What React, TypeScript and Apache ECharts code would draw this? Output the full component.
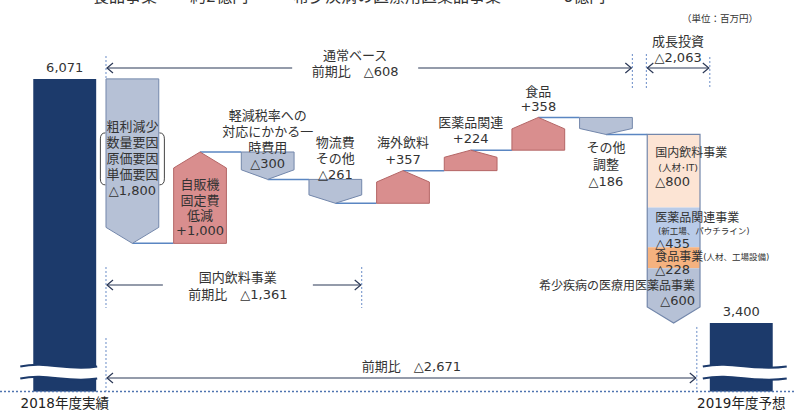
import React, { useEffect, useRef } from "react";
import * as echarts from "echarts";

// ---------- data ----------
const categories = [
  "2018年度実績", "粗利減少", "自販機固定費低減", "軽減税率対応一時費用", "物流費その他",
  "海外飲料", "医薬品関連", "食品", "その他調整", "成長投資", "2019年度予想",
];
const startValue = 6071;
const changes = [-1800, 1000, -300, -261, 357, 224, 358, -186];
const barNames: string[][] = [
  [],
  ["粗利減少", "数量要因", "原価要因", "単価要因"],
  ["自販機", "固定費", "低減"],
  ["軽減税率への", "対応にかかる一", "時費用"],
  ["物流費", "その他"],
  ["海外飲料"],
  ["医薬品関連"],
  ["食品"],
  ["その他", "調整"],
  [],
  [],
];
const growthNames = ["国内飲料事業", "医薬品関連事業", "食品事業", "希少疾病の医療用医薬品事業"];
const growthNotes = ["(人材･IT)", "(新工場、パウチライン)", "(人材、工場設備)", ""];
const growthValues = [800, 435, 228, 600];
const endValue = 3400;
const summaryNormal = ["通常ベース", "前期比　△608"];
const summaryDomestic = ["国内飲料事業", "前期比　△1,361"];
const summaryTotal = "前期比　△2,671";
const growthTitle = ["成長投資", "△2,063"];
const unitText = "（単位：百万円）";
const headerTexts = ["食品事業", "約2億円", "希少疾病の医療用医薬品事業", "6億円"];

const Y_MIN = 2650;
const Y_MAX = 6700;

// ---------- styles ----------
const FONT = "'DejaVu Sans', 'Noto Sans CJK JP', sans-serif";
const NAVY = "#1c3a6b";
const DEC_FILL = "#b6c1d6";
const DEC_STROKE = "#7387ab";
const INC_FILL = "#d98e8e";
const INC_STROKE = "#b46666";
const CONNECT = "#5a86c2";
const TEXT = "#333333";
const ARROW = "#2b3856";
const DASH = "#6a8cc7";
const SEG_FILLS = ["#fce4d4", "#b9cbe8", "#f5b27f", "#b6c1d6"];

const fmtChange = (v: number) => (v < 0 ? "△" : "+") + Math.abs(v).toLocaleString("en-US");
const fmtTotal = (v: number) => v.toLocaleString("en-US");

// build bar items: [index, start, end, kind] kind 0 total, 1 inc, 2 dec, 3 stacked dec
const barData: number[][] = [];
barData.push([0, startValue, Y_MIN, 0]);
let run = startValue;
changes.forEach((c, k) => {
  barData.push([k + 1, run, run + c, c > 0 ? 1 : 2]);
  run += c;
});
const growthTotal = growthValues.reduce((a, b) => a + b, 0);
barData.push([9, run, run - growthTotal, 3]);
barData.push([10, endValue, Y_MIN, 0]);

const txt = (x: number, y: number, text: string, size = 13, align = "center", fill = TEXT) => ({
  type: "text",
  x,
  y,
  style: { text, fill, fontSize: size, fontFamily: FONT, align, verticalAlign: "middle", lineHeight: size + 2 },
});

// multi-line block: first line centred at y, step between lines
const block = (x: number, y: number, lines: string[], step: number, size = 13, align = "center") => ({
  type: "text",
  x,
  y: y - step / 2,
  style: {
    text: lines.join("\n"),
    fill: TEXT,
    fontSize: size,
    fontFamily: FONT,
    align,
    verticalAlign: "top",
    lineHeight: step,
  },
});

const rt = (size: number, lh: number) => ({ fontSize: size, fontFamily: FONT, fill: TEXT, lineHeight: lh });

function renderBar(_params: any, api: any) {
  const i = api.value(0);
  const s = api.value(1);
  const e = api.value(2);
  const kind = api.value(3);
  const band = api.size([1, 0])[0];
  const w = kind === 0 ? band * 0.93 : band * 0.78;
  const [cx, yS] = api.coord([i, s]);
  const yE = api.coord([i, e])[1];
  const l = cx - w / 2;
  const r = cx + w / 2;
  const children: any[] = [];

  if (kind === 0) {
    children.push({ type: "rect", shape: { x: l, y: yS, width: w, height: yE - yS }, style: { fill: NAVY } });
    const yB = yE;
    const xa = i === 0 ? l - 13 : l - 7;
    const xb = i === 0 ? r + 1 : r + 14;
    const dx = xb - xa;
    const y1 = yB - 25;
    const y2 = yB - 13;
    const curve = (y: number) => `M${xa} ${y} C${xa + dx * 0.35} ${y - 6} ${xa + dx * 0.6} ${y + 5} ${xb} ${y}`;
    children.push({
      type: "path",
      shape: {
        pathData: `${curve(y1)} L${xb} ${y2} C${xa + dx * 0.6} ${y2 + 5} ${xa + dx * 0.35} ${y2 - 6} ${xa} ${y2} Z`,
      },
      style: { fill: "#ffffff", stroke: null },
    });
    children.push({ type: "path", shape: { pathData: curve(y1) }, style: { fill: null, stroke: NAVY, lineWidth: 2 } });
    children.push({ type: "path", shape: { pathData: curve(y2) }, style: { fill: null, stroke: NAVY, lineWidth: 2 } });
    children.push(txt(cx, yS - 11, fmtTotal(s), 13));
    return { type: "group", children };
  }

  const h = Math.abs(yE - yS);
  const t = Math.min(16, h * 0.35);

  if (i >= 1 && i <= 8) {
    children.push({
      type: "line",
      shape: { x1: cx, y1: yE, x2: cx + band - w / 2, y2: yE },
      style: { stroke: CONNECT, lineWidth: 1.5 },
    });
  }

  if (kind === 1) {
    children.push({
      type: "polygon",
      shape: { points: [[l, yS], [r, yS], [r, yE + t], [cx, yE], [l, yE + t]] },
      style: { fill: INC_FILL, stroke: INC_STROKE, lineWidth: 1 },
    });
  } else if (kind === 2) {
    children.push({
      type: "polygon",
      shape: { points: [[l, yS], [r, yS], [r, yE - t], [cx, yE], [l, yE - t]] },
      style: { fill: DEC_FILL, stroke: DEC_STROKE, lineWidth: 1 },
    });
  } else if (kind === 3) {
    let v = s;
    const tops: number[] = [];
    growthValues.forEach((gv, k) => {
      const ya = api.coord([i, v])[1];
      const yb = api.coord([i, v - gv])[1];
      tops.push(ya);
      if (k < growthValues.length - 1) {
        children.push({ type: "rect", shape: { x: l, y: ya, width: w, height: yb - ya }, style: { fill: SEG_FILLS[k] } });
      } else {
        children.push({
          type: "polygon",
          shape: { points: [[l, ya], [r, ya], [r, yb - t], [cx, yb], [l, yb - t]] },
          style: { fill: SEG_FILLS[k] },
        });
      }
      v -= gv;
    });
    children.push({
      type: "polygon",
      shape: { points: [[l, yS], [r, yS], [r, yE - t], [cx, yE], [l, yE - t]] },
      style: { fill: null, stroke: DEC_STROKE, lineWidth: 1.2 },
    });
    const xl = l + 8;
    const vals = growthValues.map((g) => fmtChange(-g));
    children.push({
      type: "text", x: xl, y: tops[0] + 12,
      style: {
        text: `{a|${growthNames[0]}}\n{b| ${growthNotes[0]}}\n{c|${vals[0]}}`,
        align: "left", verticalAlign: "top",
        rich: { a: rt(12, 14), b: rt(9.5, 14), c: rt(13, 15) },
      },
    });
    children.push({
      type: "text", x: xl, y: tops[1] + 3,
      style: {
        text: `{a|${growthNames[1]}}\n{b| ${growthNotes[1]}}\n{c|${vals[1]}}`,
        align: "left", verticalAlign: "top",
        rich: { a: rt(12, 14), b: rt(8.5, 12), c: rt(13, 14) },
      },
    });
    children.push({
      type: "text", x: xl, y: tops[2] + 3,
      style: {
        text: `{a|${growthNames[2]}}{b|${growthNotes[2]}}\n{c|${vals[2]}}`,
        align: "left", verticalAlign: "top",
        rich: { a: rt(12, 13), b: rt(8.5, 13), c: rt(13, 12) },
      },
    });
    children.push({
      type: "text", x: r - 5, y: tops[3] + 11,
      style: {
        text: `{a|${growthNames[3]}}\n{c|${vals[3]}}`,
        align: "right", verticalAlign: "top",
        rich: { a: rt(12, 14), c: rt(13, 15) },
      },
    });
    return { type: "group", children };
  }

  // labels
  const lines = [...barNames[i], fmtChange(e - s)];
  let firstY = yS;
  let step = 16;
  switch (i) {
    case 1: firstY = yS + 48; break;
    case 2: firstY = yE + 33; step = 15.3; break;
    case 3: firstY = yS - 36; break;
    case 4: firstY = yS - 37; break;
    case 5: case 6: firstY = yE - 28; step = 16.5; break;
    case 7: firstY = yE - 26; step = 15; break;
    case 8: firstY = yE + 13; step = 17; break;
  }
  children.push(block(cx, firstY, lines, step, 13));
  if (i === 1) {
    const xl = cx - 32;
    const xr = cx + 32;
    const y0 = firstY + step - 10;
    const y1 = firstY + 3 * step + 10;
    children.push({
      type: "path",
      shape: { pathData: `M${xl + 5} ${y0} Q${xl} ${y0} ${xl} ${y0 + 6} L${xl} ${y1 - 6} Q${xl} ${y1} ${xl + 5} ${y1}` },
      style: { fill: null, stroke: "#444", lineWidth: 1 },
    });
    children.push({
      type: "path",
      shape: { pathData: `M${xr - 5} ${y0} Q${xr} ${y0} ${xr} ${y0 + 6} L${xr} ${y1 - 6} Q${xr} ${y1} ${xr - 5} ${y1}` },
      style: { fill: null, stroke: "#444", lineWidth: 1 },
    });
  }
  return { type: "group", children };
}

function renderNotes(_params: any, api: any) {
  const band = api.size([1, 0])[0];
  const cxOf = (i: number) => api.coord([i, Y_MIN])[0];
  const wMid = band * 0.78;
  const wTot = band * 0.93;
  const L1 = cxOf(1) - wMid / 2;
  const R4 = cxOf(4) + wMid / 2;
  const R8 = cxOf(8) + wMid / 2;
  const L10 = cxOf(10) - wTot / 2;
  const yBase = api.coord([0, Y_MIN])[1];
  const yEnd = api.coord([10, endValue])[1];
  const children: any[] = [];

  const hline = (x1: number, x2: number, y: number) => ({
    type: "line", shape: { x1, y1: y, x2, y2: y }, style: { stroke: ARROW, lineWidth: 1.2 },
  });
  const headL = (x: number, y: number) => ({
    type: "polyline", shape: { points: [[x + 7, y - 5], [x + 1, y], [x + 7, y + 5]] },
    style: { stroke: ARROW, lineWidth: 1.2, fill: null },
  });
  const headR = (x: number, y: number) => ({
    type: "polyline", shape: { points: [[x - 7, y - 5], [x - 1, y], [x - 7, y + 5]] },
    style: { stroke: ARROW, lineWidth: 1.2, fill: null },
  });
  const vdash = (x: number, y1: number, y2: number) => ({
    type: "line", shape: { x1: x, y1, x2: x, y2 }, style: { stroke: DASH, lineWidth: 1, lineDash: [2, 2] },
  });

  // header (partially cut)
  const hx = [93, 190, 293, 563];
  headerTexts.forEach((t, k) => children.push(txt(hx[k], -4, t, 16, "left")));
  children.push(txt(720, 18, unitText, 9.5));

  // baseline
  children.push({
    type: "line", shape: { x1: 0, y1: yBase, x2: 795, y2: yBase },
    style: { stroke: "#4f74b0", lineWidth: 1.5, lineDash: [2, 2] },
  });

  // normal base arrow
  const yN = 68;
  const cN = (L1 + R8) / 2 - 14;
  children.push(vdash(L1, 56, 80), vdash(R8, 54, 88));
  children.push(hline(L1 + 1, cN - 63, yN), hline(cN + 63, R8 - 1, yN), headL(L1, yN), headR(R8, yN));
  children.push(block(cN, 55, summaryNormal, 16, 13));

  // growth investment arrow
  const gL = R8 + 14;
  children.push(vdash(gL, 54, 88), vdash(L10, 57, 88));
  children.push(hline(gL + 1, L10 - 1, yN), headL(gL, yN), headR(L10, yN));
  children.push(block((gL + L10) / 2, 41, growthTitle, 16, 13));

  // domestic beverage arrow
  const yD = 285;
  const cD = (L1 + R4) / 2 + 4;
  children.push(vdash(L1, 267, 308), vdash(R4, 267, 308));
  children.push(hline(L1 + 1, cD - 75, yD), hline(cD + 75, R4 - 1, yD), headL(L1, yD), headR(R4, yD));
  children.push(block(cD, 277, summaryDomestic, 17, 13));

  // total arrow
  const yT = 378;
  const tR = L10 - 13;
  children.push(vdash(L1, 338, yBase), vdash(tR, yEnd + 4, yBase));
  children.push(hline(L1 + 1, tR - 1, yT), headL(L1, yT), headR(tR, yT));
  children.push(txt((L1 + tR) / 2 + 10, 366, summaryTotal, 13));

  return { type: "group", children };
}

const option: any = {
  animation: false,
  backgroundColor: "#ffffff",
  grid: { left: 30.9, right: 19.9, top: 21.4, bottom: 18 },
  xAxis: {
    type: "category",
    data: categories,
    axisLine: { show: false },
    axisTick: { show: false },
    axisLabel: {
      interval: 0,
      margin: 5,
      fontSize: 13.5,
      fontFamily: FONT,
      color: "#222",
      formatter: (v: string, idx: number) => (idx === 0 || idx === categories.length - 1 ? v : ""),
    },
  },
  yAxis: { type: "value", min: Y_MIN, max: Y_MAX, show: false },
  series: [
    { type: "custom", renderItem: renderBar, data: barData, encode: { x: 0, y: [1, 2] }, clip: false },
    { type: "custom", renderItem: renderNotes, data: [[0, Y_MIN]], encode: { x: 0, y: 1 }, clip: false, z: 5 },
  ],
};

export default function App() {
  const ref = useRef<HTMLDivElement>(null);
  useEffect(() => {
    const chart = echarts.init(ref.current!, null, { renderer: "svg" });
    chart.setOption(option);
    return () => chart.dispose();
  }, []);
  return (
    <div
      ref={ref}
      style={{ position: "fixed", left: 0, top: 0, width: 795, height: 410, background: "#fff" }}
    />
  );
}
